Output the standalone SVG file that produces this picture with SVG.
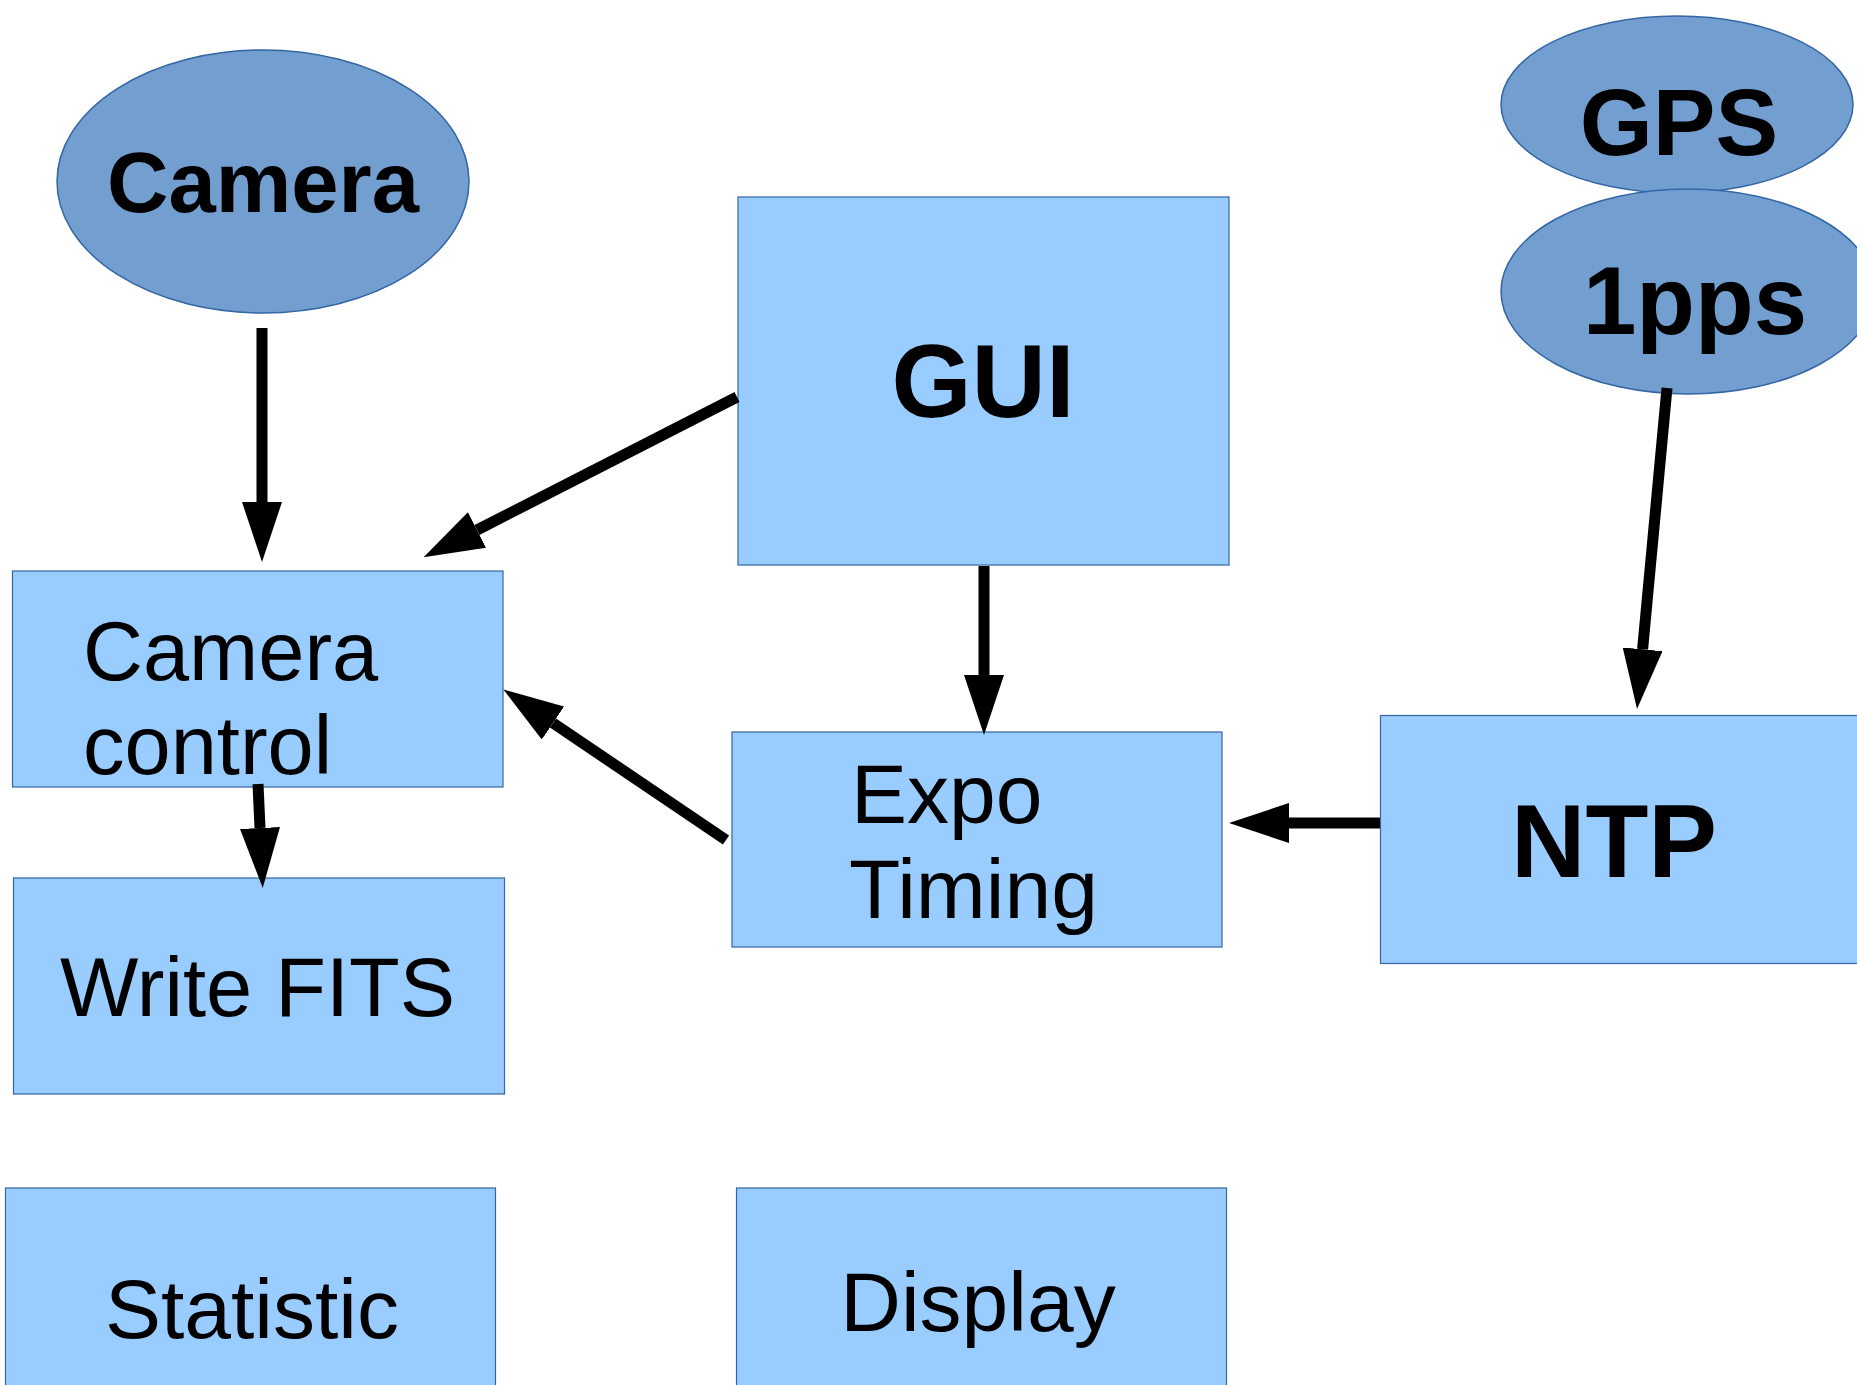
<svg xmlns="http://www.w3.org/2000/svg" width="1857" height="1385" viewBox="0 0 1857 1385">
<style>
.ell{fill:#729fcf;stroke:#3465a4;stroke-width:1.5}
.box{fill:#99ccff;stroke:#3465a4;stroke-width:1.2}
.b{font-family:"Liberation Sans",Arial,sans-serif;font-weight:bold;fill:#000}
.r{font-family:"Liberation Sans",Arial,sans-serif;fill:#000}
.c line{stroke:#000;stroke-width:11;marker-end:url(#ah)}
</style>
<defs>
<marker id="ah" viewBox="0 0 60 40" refX="0" refY="20" markerWidth="60" markerHeight="40" markerUnits="userSpaceOnUse" orient="auto">
<path d="M0,0 L60,20 L0,40 z" fill="#000"/>
</marker>
</defs>
<rect width="1857" height="1385" fill="#fff"/>
<g id="camera"><ellipse class="ell" cx="263" cy="181.5" rx="206" ry="131.5"/><text class="b" x="263" y="212" font-size="85" text-anchor="middle">Camera</text></g>
<g id="gui"><rect class="box" x="738" y="197" width="491" height="368"/><text class="b" x="983" y="417" font-size="103" text-anchor="middle">GUI</text></g>
<g id="gps"><ellipse class="ell" cx="1677" cy="104.5" rx="176" ry="88.5"/><text class="b" x="1679" y="155" font-size="94" text-anchor="middle">GPS</text></g>
<g id="pps"><ellipse class="ell" cx="1688" cy="291.5" rx="187" ry="102.5"/><text class="b" x="1695" y="334" font-size="96" text-anchor="middle">1pps</text></g>
<g id="camctrl"><rect class="box" x="12.5" y="571" width="490.5" height="216"/><text class="r" x="83" y="680" font-size="83">Camera</text><text class="r" x="83" y="774" font-size="83">control</text></g>
<g id="expo"><rect class="box" x="732" y="732" width="490" height="215"/><text class="r" x="851" y="823" font-size="84">Expo</text><text class="r" x="849" y="918" font-size="84">Timing</text></g>
<g id="ntp"><rect class="box" x="1380.5" y="715.5" width="490" height="248"/><text class="b" x="1614" y="877" font-size="103" text-anchor="middle">NTP</text></g>
<g id="writefits"><rect class="box" x="13.5" y="878" width="491" height="216"/><text class="r" x="60" y="1016" font-size="83">Write FITS</text></g>
<g id="statistic"><rect class="box" x="5.5" y="1188" width="490" height="210"/><text class="r" x="252" y="1338" font-size="84" text-anchor="middle">Statistic</text></g>
<g id="display"><rect class="box" x="736.5" y="1188" width="490" height="210"/><text class="r" x="978" y="1331" font-size="84" text-anchor="middle">Display</text></g>
<g id="connectors" class="c">
<line x1="262" y1="328" x2="262" y2="502"/>
<line x1="737" y1="397" x2="477" y2="530"/>
<line x1="984" y1="566" x2="984" y2="675"/>
<line x1="1667" y1="388" x2="1642.6" y2="649.3"/>
<line x1="1380" y1="823" x2="1289" y2="823"/>
<line x1="726" y1="840" x2="553" y2="723"/>
<line x1="258" y1="784" x2="260" y2="828"/>
</g>
</svg>
